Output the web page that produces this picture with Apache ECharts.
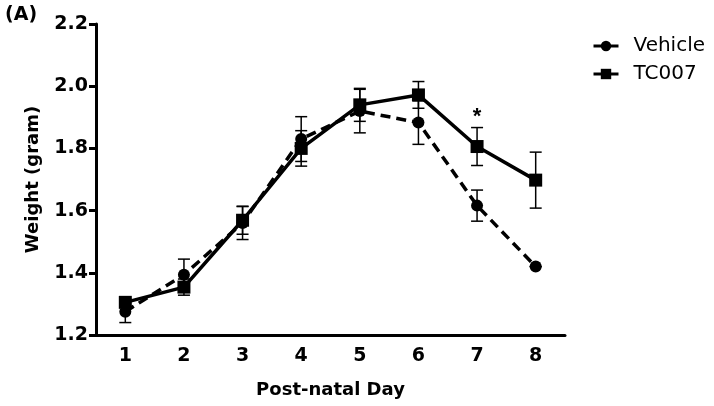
<!DOCTYPE html>
<html>
<head>
<meta charset="utf-8">
<script src="https://cdn.jsdelivr.net/npm/echarts@6/dist/echarts.min.js"></script>
<style>html,body{margin:0;padding:0;background:#fff}#c{width:714px;height:406px}</style>
</head>
<body>
<div id="c"></div>
<script>
var days = ['1','2','3','4','5','6','7','8'];
var vehicle = [1.275, 1.394, 1.56, 1.83, 1.92, 1.883, 1.616, 1.42];
var vehicleErr = [0.035, 0.05, 0.053, 0.072, 0.07, 0.07, 0.05, 0.0];
var tc007 = [1.305, 1.354, 1.569, 1.80, 1.94, 1.972, 1.806, 1.698];
var tc007Err = [0.012, 0.026, 0.045, 0.057, 0.053, 0.043, 0.061, 0.09];
var yTicks = [1.2, 1.4, 1.6, 1.8, 2.0, 2.2];
var starDay = '7';
var starValue = 1.9;

var FONT = '"DejaVu Sans", "Liberation Sans", Arial, sans-serif';

function errData(vals, errs) {
  return vals.map(function (v, i) { return [i, v - errs[i], v + errs[i]]; });
}
function errRender(params, api) {
  var x = api.value(0);
  var lo = api.coord([x, api.value(1)]);
  var hi = api.coord([x, api.value(2)]);
  var hw = 6;
  var st = { stroke: '#000', lineWidth: 1.5, fill: null };
  return {
    type: 'group',
    children: [
      { type: 'line', shape: { x1: lo[0], y1: lo[1], x2: hi[0], y2: hi[1] }, style: st },
      { type: 'line', shape: { x1: lo[0] - hw, y1: lo[1], x2: lo[0] + hw, y2: lo[1] }, style: st },
      { type: 'line', shape: { x1: hi[0] - hw, y1: hi[1], x2: hi[0] + hw, y2: hi[1] }, style: st }
    ]
  };
}

var chart = echarts.init(document.getElementById('c'), null, { renderer: 'canvas' });
chart.setOption({
  animation: false,
  backgroundColor: '#fff',
  title: {
    text: '(A)', left: 0, top: 1,
    textStyle: { fontFamily: FONT, fontWeight: 'bold', fontSize: 19, color: '#000' }
  },
  legend: {
    orient: 'vertical',
    left: 587, top: 31,
    itemWidth: 25, itemHeight: 13, itemGap: 8,
    textStyle: { fontFamily: FONT, fontSize: 20, lineHeight: 20, color: '#000', padding: [0, 0, 0, 10] },
    data: [
      { name: 'Vehicle', itemStyle: { color: '#000' }, lineStyle: { type: 'solid', width: 3, color: '#000' } },
      { name: 'TC007', itemStyle: { color: '#000' }, lineStyle: { type: 'solid', width: 3, color: '#000' } }
    ]
  },
  grid: { left: 96, right: 149, top: 24, bottom: 71 },
  xAxis: {
    type: 'category',
    data: days,
    boundaryGap: true,
    name: 'Post-natal Day',
    nameLocation: 'middle',
    nameGap: 46,
    nameTextStyle: { fontFamily: FONT, fontWeight: 'bold', fontSize: 18, color: '#000' },
    axisLine: { lineStyle: { color: '#000', width: 3 } },
    axisTick: { alignWithLabel: true, length: 7, lineStyle: { color: '#000', width: 3 } },
    axisLabel: { margin: 12, fontFamily: FONT, fontWeight: 'bold', fontSize: 19, color: '#000' },
    splitLine: { show: false }
  },
  yAxis: {
    type: 'value',
    min: yTicks[0], max: yTicks[yTicks.length - 1], interval: 0.2,
    name: 'Weight (gram)',
    nameLocation: 'middle',
    nameGap: 54,
    nameTextStyle: { fontFamily: FONT, fontWeight: 'bold', fontSize: 18, color: '#000' },
    axisLine: { show: true, lineStyle: { color: '#000', width: 3 } },
    axisTick: { show: true, length: 7, lineStyle: { color: '#000', width: 3 } },
    axisLabel: {
      margin: 8, fontFamily: FONT, fontWeight: 'bold', fontSize: 19, color: '#000',
      formatter: function (v) { return v.toFixed(1); }
    },
    splitLine: { show: false }
  },
  series: [
    {
      name: 'Vehicle-err', type: 'custom', renderItem: errRender,
      data: errData(vehicle, vehicleErr), z: 1, silent: true
    },
    {
      name: 'TC007-err', type: 'custom', renderItem: errRender,
      data: errData(tc007, tc007Err), z: 1, silent: true
    },
    {
      name: 'Vehicle', type: 'line', data: vehicle,
      symbol: 'circle', symbolSize: 12,
      itemStyle: { color: '#000' },
      lineStyle: { color: '#000', width: 3.5, type: [10, 6] },
      z: 3
    },
    {
      name: 'TC007', type: 'line', data: tc007,
      symbol: 'rect', symbolSize: 13,
      itemStyle: { color: '#000' },
      lineStyle: { color: '#000', width: 3.5, type: 'solid' },
      z: 4,
      markPoint: {
        symbol: 'circle', symbolSize: 0,
        data: [{ coord: [starDay, starValue] }],
        label: {
          show: true, position: 'inside', formatter: '*',
          fontFamily: '"Liberation Sans", Arial, sans-serif', fontWeight: 'bold', fontSize: 22, color: '#000'
        }
      }
    }
  ]
});
</script>
</body>
</html>
